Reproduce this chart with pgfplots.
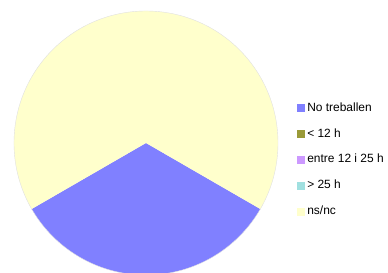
\documentclass[border=0pt]{standalone}
\usepackage{pgfplots}
\pgfplotsset{compat=1.18}
\usepackage{fontspec}
\setmainfont{Liberation Sans}
\definecolor{cA}{HTML}{8080FF}
\definecolor{cB}{HTML}{9A9A38}
\definecolor{cC}{HTML}{CC99FF}
\definecolor{cD}{HTML}{A0E0E0}
\definecolor{cE}{HTML}{FFFFCC}
% values: No treballen, <12 h, entre 12 i 25 h, >25 h, ns/nc
\def\vA{1}\def\vB{0}\def\vC{0}\def\vD{0}\def\vE{2}
\begin{document}
\begin{tikzpicture}
\path[use as bounding box, clip] (0,0) rectangle (388bp,273bp);
\begin{axis}[scale only axis, width=388bp, height=273bp, at={(0,0)}, anchor=south west,
  xmin=0, xmax=388, ymin=0, ymax=273, hide axis, clip=true,
  legend style={draw=none, fill=none, at={(axis cs:297,172)}, anchor=north west,
    font=\fontsize{12}{14}\selectfont, row sep=13.4bp, inner sep=0pt,
    nodes={inner sep=1.2bp}},
  legend cell align=left,
  legend image code/.code={\fill[#1] (0bp,-3.5bp) rectangle (7bp,3.5bp);}]
\pgfmathsetmacro\tot{\vA+\vB+\vC+\vD+\vE}
\pgfmathsetmacro\sA{330}
\pgfmathsetmacro\eA{\sA-360*\vA/\tot}
\pgfmathsetmacro\eE{\eA-360*(\vB+\vC+\vD+\vE)/\tot}
\fill[cA] (axis cs:146,130) -- ++(\sA:132bp) arc[start angle=\sA, end angle=\eA, radius=132bp] -- cycle;
\fill[cE] (axis cs:146,130) -- ++(\eA:132bp) arc[start angle=\eA, end angle=\eE, radius=132bp] -- cycle;
\draw[black!12, line width=0.4bp] (axis cs:146,130) circle[radius=132bp];
\addlegendimage{cA}\addlegendentry{\hspace{1.5bp}No treballen}
\addlegendimage{cB}\addlegendentry{\hspace{1.5bp}< 12 h}
\addlegendimage{cC}\addlegendentry{\hspace{1.5bp}entre 12 i 25 h}
\addlegendimage{cD}\addlegendentry{\hspace{1.5bp}> 25 h}
\addlegendimage{cE}\addlegendentry{\hspace{1.5bp}ns/nc}
\end{axis}
\end{tikzpicture}
\end{document}
